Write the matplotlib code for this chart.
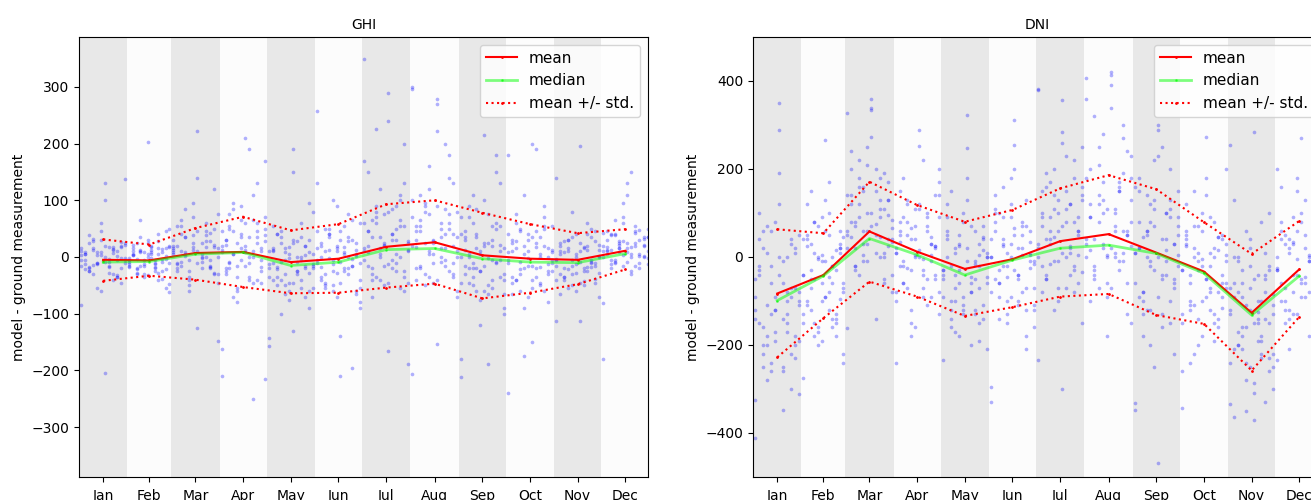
import numpy as np
import matplotlib
matplotlib.use("Agg")
import matplotlib.pyplot as plt

# month layout (day of year)
months = ['Jan', 'Feb', 'Mar', 'Apr', 'May', 'Jun', 'Jul', 'Aug', 'Sep', 'Oct', 'Nov', 'Dec']
month_len = [31, 28, 31, 30, 31, 30, 31, 31, 30, 31, 30, 31]

# monthly statistics of model - ground
ghi_mean = [-5, -6, 7, 9, -9, -3, 18, 26, 3, -3, -5, 11]
ghi_median = [-9, -8, 5, 8, -15, -9, 13, 15, -3, -9, -10, 6]
ghi_upper = [31, 22, 51, 71, 47, 58, 93, 100, 78, 58, 42, 49]
ghi_lower = [-42, -33, -40, -53, -64, -63, -54, -47, -73, -63, -48, -22]

dni_mean = [-83, -41, 58, 12, -27, -5, 36, 52, 10, -33, -127, -28]
dni_median = [-99, -43, 42, 5, -41, -7, 20, 27, 8, -37, -132, -43]
dni_upper = [63, 54, 171, 118, 80, 107, 156, 186, 154, 79, 7, 82]
dni_lower = [-228, -139, -56, -90, -134, -114, -90, -84, -132, -152, -258, -136]

# sampled scatter points per month
ghi_points = [
    [10, -12, 25, -30, 4, 60, -8, 18, -40, 2, -20, 138, 15, -5, -25, 32, -55, 8,
     -205, -15, 12, -35, 20, -2, -84, 6, -18, 28, -10, 45, 130, -28, 14, -6, -45, 22,
     3, -22, 38, -14, 9, -60, 100, -3, 17, -32, 26, -11],
    [-5, 15, -20, 8, -35, 30, 12, -10, 40, -25, 2, -48, -15, 22, -3, 65, -30, 6,
     5, -18, 28, -8, -55, 18, -2, 10, -28, 35, -12, 202, 20, -6, -40, 14, -22, 50,
     -12, 4, 25, -16, 9, -32, 8, -24, 16, -4, 45, -62],
    [15, -20, 40, 5, -35, 70, -10, 25, 60, -5, 120, -45, 30, -25, 10, 85, -60, 18,
     -126, 5, 45, -15, 22, -30, 12, 55, -8, 35, -40, 95, 140, 0, 28, -20, 50, -148,
     20, -12, 65, 8, -50, 38, 222, -2, 18, 42, -28, 75],
    [20, -30, 55, 5, -60, 90, -15, 35, 110, -40, 10, 170, 45, -20, 75, -70, 25, -5,
     210, 0, -45, 60, 15, -215, -163, 30, -10, 85, -55, 40, 12, -35, 65, 130, -25, 50,
     -210, 22, -8, 95, -80, 35, 8, 190, -251, 45, -18, 70],
    [-20, 10, -50, 35, -5, -75, 25, -30, 60, -15, -90, 5, -142, -10, 40, -40, 15, -60,
     190, -25, 0, -70, 30, -12, -35, 55, -18, -100, 8, -45, 150, -8, -55, 20, -28, 80,
     -157, 12, -22, 45, -65, -2, -130, 28, -40, 3, 95, -20],
    [-10, 20, -45, 50, -5, -70, 30, -25, 75, -15, 5, -90, 258, -35, 10, 40, -60, 15,
     -8, 55, -20, -195, 25, -40, 130, 0, -50, 35, -12, 90, -139, 18, -30, 65, 2, -80,
     45, -18, -55, 12, 100, -28, -210, 8, 28, -3, -65, 60],
    [350, 20, -30, 80, 5, -50, 290, 40, -10, 110, -60, 25, 10, 150, -40, 60, 35, -15,
     240, -20, 90, 0, 130, -189, -5, 45, -70, 225, 15, 75, -165, 30, -25, 100, 55, -45,
     170, 8, 65, -35, 120, 22, -12, 85, 50, -55, 200, 12],
    [300, 30, -20, 90, 10, -45, 278, 60, -5, 140, 20, -60, -206, 45, 110, -30, 75, 5,
     222, 15, -15, 180, 40, -70, 100, -40, 55, 25, 160, -10, -154, 35, 85, -25, 130, 0,
     296, 18, 65, -50, 120, 28, 270, -8, 200, 50, -35, 80],
    [40, -30, 90, -10, 15, -75, 215, -50, 20, 60, -5, -100, -180, 30, -20, 110, -60, 5,
     -15, 75, -40, 150, 10, -90, -212, 45, 0, -35, 85, -25, 25, -189, 55, -8, 130, -65,
     -45, 12, 70, -20, 35, -120, 100, -2, -55, 180, 22, -30],
    [-10, 25, -40, 50, 5, -70, 200, -20, 35, -60, 15, -5, -240, 10, 60, -30, -90, 40,
     -15, 190, -50, 20, 0, -25, 180, -35, 75, -8, -174, 30, -150, 18, -45, 90, -12, 55,
     8, -65, 28, -22, 110, -2, -40, 45, -18, 70, -80, 12],
    [-15, 10, -40, 30, -5, -60, 195, -25, 20, -10, 45, -70, -113, 5, -35, 15, -50, 0,
     25, -20, 60, -8, -45, 12, 140, -30, 8, -55, 35, -12, -113, 18, -18, 50, -38, 2,
     -3, -65, 28, -22, 80, -28, 10, -42, 40, -6, -15, 22],
    [20, 5, 40, -10, 15, 60, 130, 0, 25, -20, 35, 10, -82, 45, 12, -5, 28, 70,
     8, 150, -15, 30, 2, 50, -180, 18, 38, -8, 22, 95, 15, -25, 55, 6, 32, -2,
     42, 10, -12, 65, 25, 3, 110, -30, 20, 48, 0, 35],
]

# extra points from the dense band near the monthly mean
ghi_dense = [
    [-5, 8, -20, 15, -12, 3, 20, -8, -30, 10, -2, 25, -15, 5, -25, 12, -10, 30, 0, -18, 7, -35, 18, -6],
    [-8, 5, -22, 12, -15, 0, 18, -12, -28, 8, -4, 20, -18, 3, -30, 10, -6, 25, -2, -20, 6, -38, 15, -10],
    [5, 20, -15, 35, -5, 12, 45, -20, 0, 28, -30, 15, 8, -10, 55, 2, -25, 25, 10, -8, 38, -18, 18, 0],
    [8, 30, -20, 45, -35, 15, 60, -10, 0, 25, -45, 38, 12, -25, 50, 5, -15, 65, 20, -40, 10, 35, -5, 28],
    [-12, 15, -35, 25, -50, 5, 30, -25, -5, 20, -60, -15, 10, -40, 40, -8, -30, 18, -45, 0, 35, -20, 8, -55],
    [-5, 25, -30, 40, -50, 10, 45, -20, 0, 30, -60, -10, 15, -40, 50, -2, -25, 20, -45, 5, 35, -15, 12, -55],
    [15, 45, -20, 70, -40, 25, 80, -5, 30, 55, -35, 10, 60, -15, 35, 90, 0, 20, -45, 40, 5, 65, -25, 28],
    [20, 55, -15, 80, -35, 30, 90, 0, 40, 60, -30, 10, 70, -20, 45, 95, 5, 25, -40, 50, 15, 75, -10, 35],
    [0, 35, -45, 60, -20, 10, -60, 25, -5, 50, -35, 15, 70, -15, 5, -50, 40, -25, 20, -65, 30, -10, 55, -40],
    [-5, 30, -40, 45, -20, 10, -55, 25, 0, 50, -30, -10, 40, -45, 15, -60, 20, -15, 35, -35, 5, 55, -25, 8],
    [-5, 20, -35, 30, -15, 5, -45, 15, -25, 35, -10, 0, -40, 25, -20, 10, -30, 40, -8, -50, 12, -18, 28, -28],
    [10, 30, -5, 40, 15, -15, 25, 5, 45, -10, 20, 35, 0, 12, -20, 38, 8, 28, -8, 18, 42, 2, 22, -12],
]

dni_points = [
    [-120, 40, -200, 10, -260, 80, 349, -60, -150, -300, 20, -100, -412, -30, 60, -180, -240, -90,
     288, -140, 0, -220, -70, -311, -50, 100, -160, -280, -20, -120, 190, -348, -80, 30, -200, -110,
     -325, -40, -250, 70, -130, -190, 120, -10, -170, -90, -230, 50],
    [-40, 50, -120, 10, -200, 90, 266, -80, 0, -150, 30, -60, -274, 120, -30, -180, 70, -100,
     -10, 171, -60, -140, 20, -220, 40, -110, 150, -50, -170, 5, -90, 100, -20, -130, 60, -240,
     -150, 25, -70, 80, -5, -190, 130, -45, -160, 15, -95, 45],
    [60, 200, -20, 120, 30, 250, 360, 10, 90, -50, 170, 40, -162, 140, 70, 220, -10, 100,
     334, 50, 180, 0, 130, -80, 20, 240, 80, -40, 150, 60, 338, -140, 110, 190, 25, 85,
     328, 45, -30, 160, 5, 210, 273, 75, 130, -60, 95, 35],
    [10, 150, -60, 80, -120, 40, 288, -30, 100, -90, 20, 170, -242, 60, -10, 130, -150, 0,
     253, -70, 90, 30, -40, 200, -100, 50, -20, 120, -180, 70, 15, 220, -50, 5, 140, -130,
     -80, 35, 180, -25, 65, -160, 110, -5, -110, 45, 25, 90],
    [-40, 60, -120, 20, -180, 100, 323, -80, -10, -150, 40, -60, -234, 0, 150, -100, -30, 80,
     248, -200, -50, 30, -140, 10, -90, 120, -20, -170, 50, -110, 180, -60, -130, 5, 70, -210,
     -30, 90, -160, -70, 25, -120, 130, -45, -15, -190, 45, 0],
    [0, 80, -90, 40, -150, 120, 254, -40, 20, -120, 60, -10, -329, 100, -60, 160, -20, 30,
     311, -100, 50, -180, 10, -70, -295, 140, -30, 90, -130, 0, 200, -50, 70, -210, 35, -15,
     -80, 110, -140, 25, -45, 180, 65, -110, 5, 130, -25, -160],
    [20, 150, -50, 90, 200, -100, 357, 0, 120, -30, 60, 250, 382, -80, 40, 170, -10, 100,
     -299, 230, 10, 80, -60, 140, 380, -20, 190, 30, -120, 60, 285, 110, -40, 220, 5, -150,
     -234, 70, 160, -15, 45, 130, 260, -70, 25, 180, 90, -35],
    [30, 200, -40, 120, 280, -90, 414, 0, 150, 60, -130, 230, 406, 90, -20, 250, 20, -180,
     391, 10, 170, 300, -60, 80, 360, -100, 40, 210, 130, 0, 338, 110, -30, 270, 50, -150,
     180, 15, 320, -70, 100, 5, 421, 60, -10, 190, 240, 25],
    [10, 150, -100, 60, -200, 220, 288, -50, 100, -150, 30, -20, -331, 180, -80, 0, 120, -250,
     300, -130, 40, 200, -60, 90, -348, 20, -180, 140, -10, 70, -469, 250, -40, 110, -220, 5,
     160, -90, 45, -120, 80, -30, 230, -160, 15, 130, -70, 50],
    [-30, 60, -120, 20, -200, 100, 273, -80, 0, -160, 40, -60, -344, 120, -40, -220, 10, -100,
     180, -20, 80, -140, -60, 30, -260, 50, -110, 150, -10, -180, -50, 90, -150, 15, -90, 200,
     -130, 25, -240, 70, -30, -5, 140, -70, -190, 45, -115, 5],
    [-130, 0, -200, -60, -280, 40, 285, -150, -100, -330, -20, -250, 254, -363, -80, -180, 60, -120,
     -371, -40, -230, -140, 100, -300, -333, -90, -10, -210, -160, 20, -287, -190, 80, -50, -260, -110,
     -240, 130, -170, -30, -350, -70, -310, -125, -220, 10, -150, -85],
    [-30, 80, -150, 40, -80, 150, 270, -60, 0, -200, 110, -20, -234, 60, -120, 20, -40, 180,
     -90, 130, -10, -170, 70, -50, 200, -100, 30, -140, 90, -5, -60, 50, -180, 10, 120, -110,
     -25, 160, -70, -210, 35, -130, 100, -45, 5, -160, 65, -35],
]

dni_dense = [
    [-90, -150, 20, -200, -60, -120, 0, -250, -100, 40, -180, -80, -140, -20, -220, -110, 60, -170, -40, -260, -130, -70, 10, -190],
    [-40, -100, 30, -150, 0, -60, 60, -120, -20, -180, 20, -80, -130, 40, -50, 80, -160, -10, -90, 50, -140, -30, 10, -70],
    [50, 120, -20, 90, 160, 30, 70, 200, 0, 110, 40, -40, 140, 80, 20, 180, 60, -10, 100, 150, 45, 10, 130, 65],
    [10, 80, -60, 50, -30, 110, 0, -90, 60, 30, -50, 140, 20, -20, 90, -70, 40, 5, 120, -40, 70, -10, 25, -80],
    [-30, 40, -100, 10, -60, -130, 20, -80, 60, -20, -110, 0, -50, 50, -140, -40, 30, -90, -10, 70, -120, -70, 15, -45],
    [0, 60, -60, 30, -100, 90, -30, 20, -80, 70, -10, -120, 40, -50, 100, -20, 10, -90, 50, -40, 80, -70, 5, -110],
    [30, 100, -40, 60, 140, -70, 10, 80, 120, -20, 50, 160, 0, 90, -50, 40, 110, -10, 70, 150, 20, -80, 60, 130],
    [40, 120, -30, 80, 170, -60, 20, 100, 150, -10, 60, 180, 0, 90, -50, 140, 30, 110, -70, 70, 160, 10, 50, 130],
    [10, 80, -80, 50, -120, 130, 0, -40, 100, -100, 30, 150, -60, 20, -130, 60, -20, 110, -90, 40, -10, 90, -50, 70],
    [-30, 40, -100, 0, -140, 60, -50, -120, 20, -80, 50, -10, -150, 30, -60, -110, 70, -20, -90, 10, -130, 45, -40, -70],
    [-120, -60, -200, -90, -240, -20, -150, -100, -180, -40, -230, -130, -70, -210, 0, -160, -110, -250, -50, -140, -190, -80, -30, -220],
    [-30, 40, -100, 10, -130, 60, -50, 20, -80, 70, -20, -110, 0, -60, 50, -120, 30, -40, 80, -90, -10, -70, 25, -140],
]

month_start = np.concatenate([[0], np.cumsum(month_len)[:-1]])
month_mid = month_start + np.array(month_len) / 2.0


def draw_panel(ax, title, points, dense, mean, median, upper, lower, ylim, yticks):
    # alternating month stripes
    for i in range(12):
        ax.axvspan(month_start[i], month_start[i] + month_len[i],
                   color='#e8e8e8' if i % 2 == 0 else '#fcfcfc', lw=0, zorder=0)
    # scatter spread over the days of each month
    for i in range(12):
        vals = np.array(points[i] + dense[i])
        ncol = len(vals) // 6
        col = np.arange(len(vals)) % ncol
        x = month_start[i] + (col + 0.5) / ncol * month_len[i]
        ax.scatter(x, vals, s=7, c='blue', alpha=0.3, lw=0, zorder=1)
    ax.plot(month_mid, mean, 'r-', marker='.', ms=2, lw=1.5, label='mean', zorder=3)
    ax.plot(month_mid, median, color='lime', alpha=0.5, marker='.', ms=2, lw=2,
            label='median', zorder=3)
    ax.plot(month_mid, upper, 'r:', marker='.', ms=2, lw=1.5, label='mean +/- std.', zorder=3)
    ax.plot(month_mid, lower, 'r:', marker='.', ms=2, lw=1.5, zorder=3)
    ax.set_xlim(0, 364)
    ax.set_ylim(-ylim, ylim)
    ax.set_yticks(yticks)
    ax.set_xticks(month_mid)
    ax.set_xticklabels(months)
    ax.tick_params(axis='x', pad=5)
    ax.set_title(title, fontsize=10)
    ax.set_ylabel('model - ground measurement', fontsize=10)
    ax.legend(loc='upper right', fontsize=11)


fig = plt.figure(figsize=(13.11, 5.0), dpi=100)
ax1 = fig.add_axes([79 / 1311, 23 / 500, 569 / 1311, 440 / 500])
ax2 = fig.add_axes([753 / 1311, 23 / 500, 569 / 1311, 440 / 500])

draw_panel(ax1, 'GHI', ghi_points, ghi_dense, ghi_mean, ghi_median, ghi_upper, ghi_lower,
           388, [-300, -200, -100, 0, 100, 200, 300])
draw_panel(ax2, 'DNI', dni_points, dni_dense, dni_mean, dni_median, dni_upper, dni_lower,
           500, [-400, -200, 0, 200, 400])

fig.savefig('out.png', dpi=100)
